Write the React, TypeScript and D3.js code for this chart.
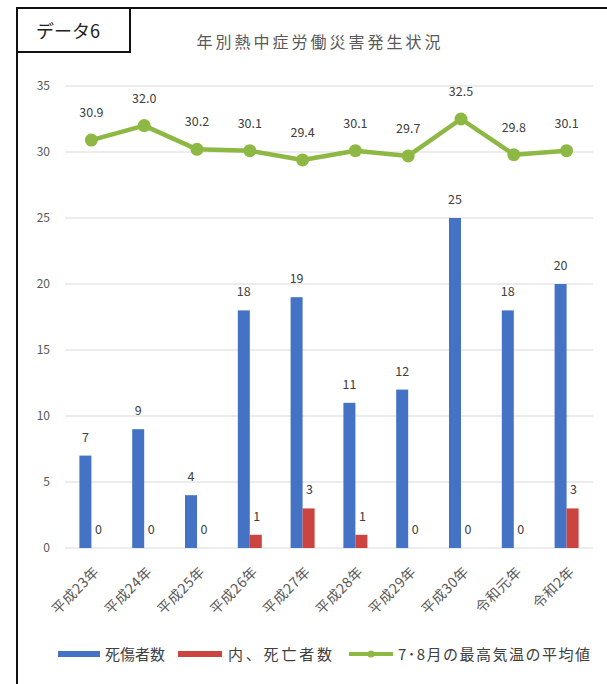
import React from "react";
import * as d3 from "d3";

const categories = ["平成23年","平成24年","平成25年","平成26年","平成27年","平成28年","平成29年","平成30年","令和元年","令和2年"];
const casualties = [7, 9, 4, 18, 19, 11, 12, 25, 18, 20];
const deaths = [0, 0, 0, 1, 3, 1, 0, 0, 0, 3];
const avgTemp = [30.9, 32.0, 30.2, 30.1, 29.4, 30.1, 29.7, 32.5, 29.8, 30.1];
const yTicks = [0, 5, 10, 15, 20, 25, 30, 35];
const legendLabels = ["死傷者数", "内、死亡者数", "7･8月の最高気温の平均値"];

const BLUE = "#4472C4";
const RED = "#CC4440";
const GREEN = "#8DB843";
const FONT = "'Noto Sans CJK JP', 'Noto Sans', sans-serif";

export default function App() {
  const W = 607, H = 684;
  const left = 65, right = 593, top = 86, bottom = 548;
  const x = d3.scaleBand<string>().domain(categories).range([left, right]).paddingInner(0).paddingOuter(0);
  const y = d3.scaleLinear().domain([0, 35]).range([bottom, top]);
  const bw = 12;
  const cx = (c: string) => (x(c) as number) + x.bandwidth() / 2;
  const line = d3.line<number>().x((_, i) => cx(categories[i])).y((d) => y(d));

  return (
    <svg width={W} height={H} style={{ position: "absolute", left: 0, top: 0, background: "#fff" }} fontFamily={FONT}>
      <rect x={0} y={0} width={W} height={H} fill="#fff" />
      {/* frame */}
      <line x1={17} y1={8} x2={W} y2={8} stroke="#111" strokeWidth={2} />
      <line x1={17} y1={8} x2={17} y2={H} stroke="#111" strokeWidth={2} />
      <rect x={17} y={8} width={113} height={44} fill="none" stroke="#111" strokeWidth={2} />
      <text x={36} y={38} fontSize={18} fill="#222">データ6</text>
      <text x={320} y={48} fontSize={16} letterSpacing={3} fill="#595959" textAnchor="middle">年別熱中症労働災害発生状況</text>

      {/* gridlines and y ticks */}
      {yTicks.map((t) => (
        <g key={t}>
          <line x1={left} x2={right} y1={y(t)} y2={y(t)} stroke="#D9D9D9" strokeWidth={1} />
          <text x={50} y={y(t) + 4} fontSize={12} fill="#595959" textAnchor="end">{t}</text>
        </g>
      ))}

      {/* bars */}
      {categories.map((c, i) => (
        <g key={c}>
          <rect x={cx(c) - bw} y={y(casualties[i])} width={bw} height={bottom - y(casualties[i])} fill={BLUE} />
          <rect x={cx(c)} y={y(deaths[i])} width={bw} height={bottom - y(deaths[i])} fill={RED} />
          <text x={cx(c) - bw / 2} y={y(casualties[i]) - 14} fontSize={12.5} fill="#404040" textAnchor="middle">{casualties[i]}</text>
          <text x={cx(c) + bw / 2 + 1} y={y(deaths[i]) - 14} fontSize={12.5} fill="#404040" textAnchor="middle">{deaths[i]}</text>
        </g>
      ))}

      {/* line */}
      <path d={line(avgTemp) || ""} fill="none" stroke={GREEN} strokeWidth={4.5} strokeLinejoin="round" />
      {avgTemp.map((v, i) => (
        <g key={i}>
          <circle cx={cx(categories[i])} cy={y(v)} r={6.5} fill={GREEN} />
          <text x={cx(categories[i])} y={y(v) - 23} fontSize={12.5} fill="#404040" textAnchor="middle">{v.toFixed(1)}</text>
        </g>
      ))}

      {/* x labels */}
      {categories.map((c) => (
        <text key={c} transform={`translate(${cx(c) + 6},${bottom + 22}) rotate(-45)`} fontSize={14} letterSpacing={0.5} fill="#595959" textAnchor="end" dominantBaseline="middle">{c}</text>
      ))}

      {/* legend */}
      <g fontSize={15} fill="#404040">
        <rect x={58} y={651} width={42} height={6} fill={BLUE} />
        <text x={105} y={660} textLength={60} lengthAdjust="spacing">{legendLabels[0]}</text>
        <rect x={178} y={651} width={44} height={6} fill={RED} />
        <text x={228} y={660} textLength={104} lengthAdjust="spacing">{legendLabels[1]}</text>
        <line x1={349} x2={393} y1={654} y2={654} stroke={GREEN} strokeWidth={4} />
        <circle cx={371} cy={654} r={3.5} fill={GREEN} />
        <text x={398} y={660} textLength={192} lengthAdjust="spacing">{legendLabels[2]}</text>
      </g>
    </svg>
  );
}
